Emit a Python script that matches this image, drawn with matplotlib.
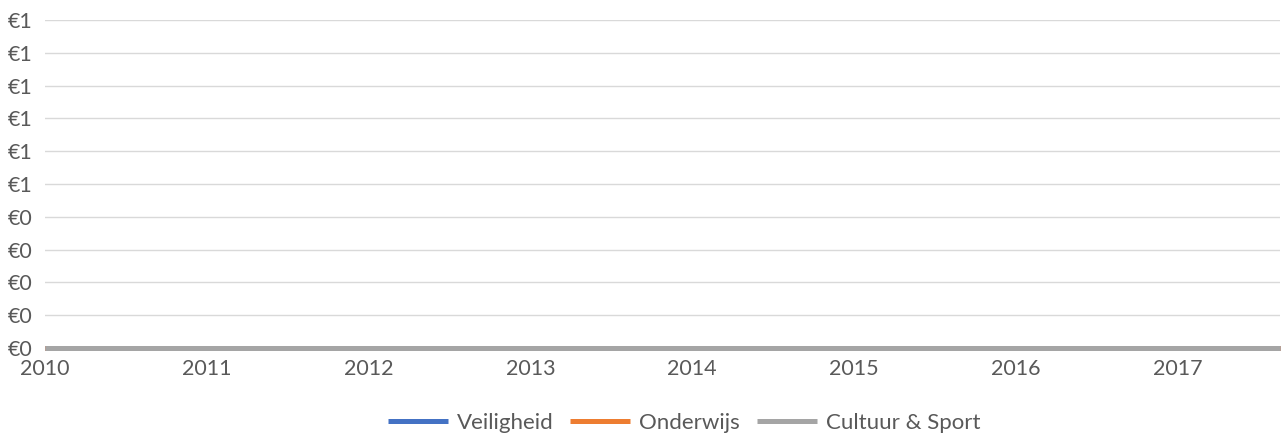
import matplotlib
matplotlib.use("Agg")
import matplotlib.pyplot as plt
import matplotlib.dates as mdates
import matplotlib.ticker as mticker
import pandas as pd

# Data
dates = ["2010-01-01", "2011-01-01", "2012-01-01", "2013-01-01", "2014-01-01",
         "2015-01-01", "2016-01-01", "2017-01-01", "2017-08-20"]
veiligheid = [0, 0, 0, 0, 0, 0, 0, 0, 0]
onderwijs = [0, 0, 0, 0, 0, 0, 0, 0, 0]
cultuur_sport = [0, 0, 0, 0, 0, 0, 0, 0, 0]
series_names = ["Veiligheid", "Onderwijs", "Cultuur & Sport"]
y_ticks = [0, 0.1, 0.2, 0.3, 0.4, 0.5, 0.6, 0.7, 0.8, 0.9, 1.0]

x = pd.to_datetime(dates)
plt.rcParams['font.family'] = ['Lato', 'DejaVu Sans']
text_color = "#595959"

fig = plt.figure(figsize=(12.85, 4.37), dpi=100)
ax = fig.add_axes([45/1285, 1 - 348/437, (1280 - 45)/1285, (348 - 20)/437])

colors = ["#4472C4", "#ED7D31", "#A5A5A5"]
for vals, name, c in zip([veiligheid, onderwijs, cultuur_sport], series_names, colors):
    ax.plot(x, vals, color=c, lw=3.6, label=name, solid_capstyle="butt",
            zorder=3, clip_on=False)

ax.set_xlim(x[0], x[-1])
ax.set_ylim(0, 1.0)
ax.set_yticks(y_ticks)
ax.yaxis.set_major_formatter(mticker.FuncFormatter(lambda v, p: "€%d" % int(v + 0.5 + 1e-9)))
ax.xaxis.set_major_locator(mdates.YearLocator())
ax.xaxis.set_major_formatter(mdates.DateFormatter("%Y"))

ax.grid(axis="y", color="#D9D9D9", lw=1)
ax.set_axisbelow(True)
for s in ax.spines.values():
    s.set_visible(False)
ax.tick_params(axis="both", length=0, labelsize=15.5, colors=text_color)
ax.tick_params(axis="y", pad=9)
ax.tick_params(axis="x", pad=8)

leg = fig.legend(loc="center", bbox_to_anchor=(684/1285, 1 - 423/437), ncol=3,
                 frameon=False, fontsize=16, handlelength=2.7, handletextpad=0.4,
                 columnspacing=0.77)
for t in leg.get_texts():
    t.set_color(text_color)

fig.savefig("out.png", dpi=100)
